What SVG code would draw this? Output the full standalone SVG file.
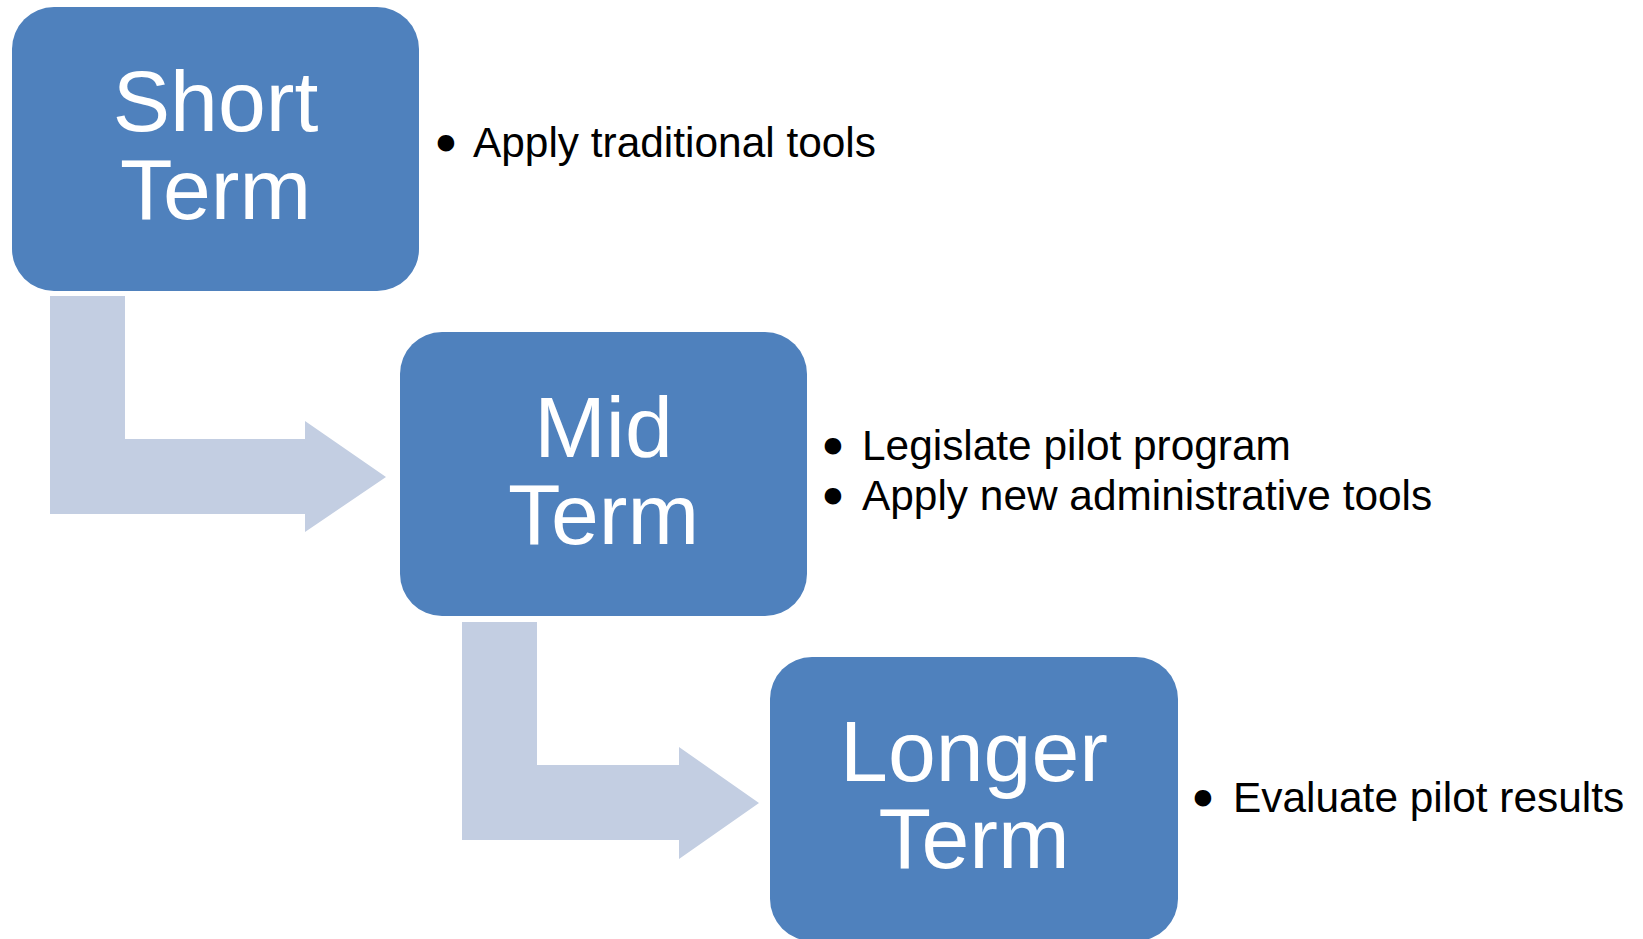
<svg xmlns="http://www.w3.org/2000/svg" width="1643" height="939" viewBox="0 0 1643 939">
<style>
.box{fill:#4F81BD;}
.arrow{fill:#C3CEE2;}
.lbl{font-family:"Liberation Sans",Arial,sans-serif;font-size:86px;fill:#FFFFFF;text-anchor:middle;}
.bul{font-family:"Liberation Sans",Arial,sans-serif;font-size:42.4px;fill:#000000;}
.dot{font-family:"Liberation Sans",Arial,sans-serif;font-size:42.4px;fill:#000000;stroke:#000000;stroke-width:5;stroke-linejoin:round;text-anchor:middle;}
</style>
<rect width="1643" height="939" fill="#FFFFFF"/>
<g id="connectors">
<path class="arrow" d="M50,296 H125 V439 H305 V421 L386,477 L305,532 V514 H50 Z"/>
<path class="arrow" d="M462,622 H537 V765 H679 V747 L759,803 L679,859 V840 H462 Z"/>
</g>
<g id="node-short">
<rect class="box" x="12" y="7" width="407" height="284" rx="42" ry="42"/>
<text class="lbl" x="215.5" y="131">Short</text>
<text class="lbl" x="215.5" y="219">Term</text>
</g>
<g id="node-mid">
<rect class="box" x="400" y="332" width="407" height="284" rx="42" ry="42"/>
<text class="lbl" x="603.5" y="457">Mid</text>
<text class="lbl" x="603.5" y="544">Term</text>
</g>
<g id="node-longer">
<rect class="box" x="770" y="657" width="408" height="284" rx="42" ry="42"/>
<text class="lbl" x="974" y="781">Longer</text>
<text class="lbl" x="974" y="868">Term</text>
</g>
<g id="text-short">
<text class="dot" x="446" y="157">•</text>
<text class="bul" x="473" y="157">Apply traditional tools</text>
</g>
<g id="text-mid">
<text class="dot" x="833" y="460">•</text>
<text class="bul" x="862" y="460">Legislate pilot program</text>
<text class="dot" x="833" y="510">•</text>
<text class="bul" x="862" y="510">Apply new administrative tools</text>
</g>
<g id="text-longer">
<text class="dot" x="1203" y="812">•</text>
<text class="bul" x="1233" y="812">Evaluate pilot results</text>
</g>
</svg>
